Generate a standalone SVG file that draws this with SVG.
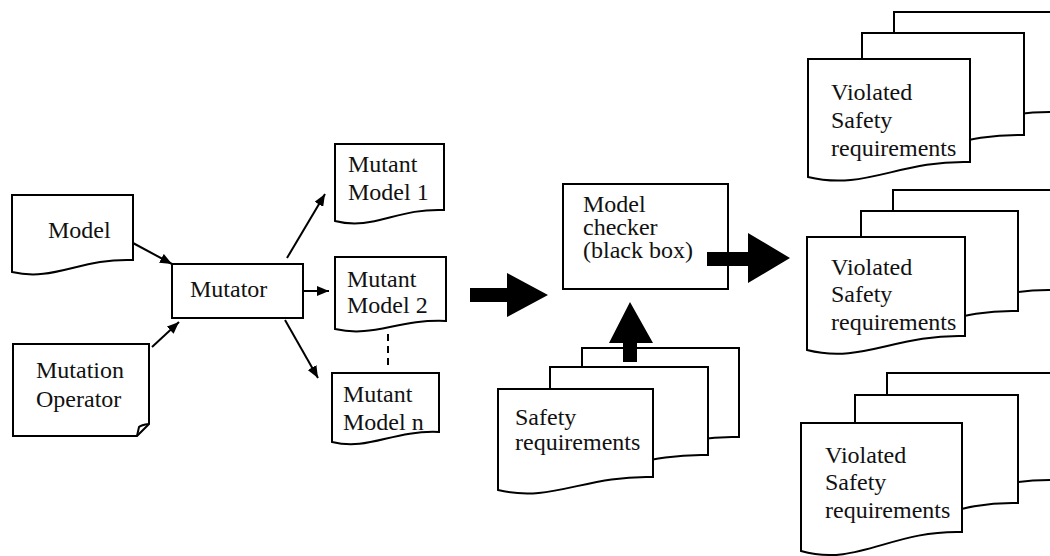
<svg xmlns="http://www.w3.org/2000/svg" width="1050" height="556" viewBox="0 0 1050 556">
  <style>
    .shape { fill: #fff; stroke: #000; stroke-width: 2; }
    .line { fill: none; stroke: #000; stroke-width: 2; }
    .block { fill: #000; stroke: none; }
    text { font-family: 'Liberation Serif', 'Times New Roman', serif; font-size: 24px; fill: #111; }
  </style>
  <defs>
    <marker id="head" viewBox="0 0 12 10" refX="12" refY="5" markerWidth="12" markerHeight="10" markerUnits="userSpaceOnUse" orient="auto">
      <path d="M0,0 L12,5 L0,10 Z" fill="#000"/>
    </marker>
  </defs>

  <!-- input documents and mutator -->
  <g id="model">
    <path class="shape" d="M12,195 H133 V260 C80,258 54,282 12,272 Z"/>
    <text x="48" y="238">Model</text>
  </g>
  <g id="mutation-operator">
    <path class="shape" d="M13,344 H149 V424 L137,436 H13 Z"/>
    <path class="line" d="M149,424 Q141,425 139,427 L137,436"/>
    <text x="36" y="378">Mutation</text>
    <text x="36" y="407">Operator</text>
  </g>
  <g id="mutator">
    <rect class="shape" x="172" y="264" width="131" height="54"/>
    <text x="190" y="297">Mutator</text>
  </g>

  <!-- mutant models -->
  <g id="mutant-model-1">
    <path class="shape" d="M335,144 H444 V210 C396,208 373,231 335,221 Z"/>
    <text x="348" y="172">Mutant</text>
    <text x="348" y="200">Model 1</text>
  </g>
  <g id="mutant-model-2">
    <path class="shape" d="M335,257 H446 V321 C397,319 374,338 335,329 Z"/>
    <text x="347" y="287">Mutant</text>
    <text x="347" y="313">Model 2</text>
  </g>
  <g id="mutant-model-n">
    <path class="shape" d="M332,373 H439 V432 C392,430 369,451 332,442 Z"/>
    <text x="343" y="402">Mutant</text>
    <text x="343" y="430">Model n</text>
  </g>

  <!-- model checker -->
  <g id="model-checker">
    <rect class="shape" x="563" y="184" width="165" height="105"/>
    <text x="583" y="212">Model</text>
    <text x="583" y="235">checker</text>
    <text x="583" y="258">(black box)</text>
  </g>

  <!-- safety requirements stack -->
  <g id="safety-requirements">
    <path class="shape" d="M582,348 H739 V437 C670,435 637,463 582,450 Z"/>
    <path class="shape" d="M550,367 H708 V455 C638,453 605,481 550,468 Z"/>
    <path class="shape" d="M498,389 H653 V477 C585,475 552,503 498,490 Z"/>
    <text x="515" y="425">Safety</text>
    <text x="515" y="450">requirements</text>
  </g>

  <!-- violated safety requirement stacks -->
  <g id="violated-1">
    <path class="shape" d="M894,12 H1056 V112 C985,110 951,141 894,127 Z"/>
    <path class="shape" d="M862,33 H1024 V135 C953,133 919,164 862,150 Z"/>
    <path class="shape" d="M808,59 H970 V162 C899,160 865,191 808,177 Z"/>
    <text x="831" y="100">Violated</text>
    <text x="831" y="128">Safety</text>
    <text x="831" y="156">requirements</text>
  </g>
  <g id="violated-2">
    <path class="shape" d="M893,190 H1055 V290 C984,288 950,319 893,305 Z"/>
    <path class="shape" d="M861,211 H1018 V311 C949,309 916,340 861,326 Z"/>
    <path class="shape" d="M807,237 H965 V336 C895,334 862,364 807,350 Z"/>
    <text x="831" y="275">Violated</text>
    <text x="831" y="302">Safety</text>
    <text x="831" y="330">requirements</text>
  </g>
  <g id="violated-3">
    <path class="shape" d="M887,373 H1056 V480 C978,478 944,513 887,497 Z"/>
    <path class="shape" d="M855,395 H1018 V503 C946,501 912,536 855,520 Z"/>
    <path class="shape" d="M801,423 H962 V532 C891,530 857,567 801,551 Z"/>
    <text x="825" y="463">Violated</text>
    <text x="825" y="490">Safety</text>
    <text x="825" y="518">requirements</text>
  </g>

  <!-- connectors -->
  <g id="connectors">
    <line class="line" x1="133" y1="243" x2="172" y2="264" marker-end="url(#head)"/>
    <line class="line" x1="152" y1="347" x2="179" y2="322" marker-end="url(#head)"/>
    <line class="line" x1="287" y1="258" x2="325" y2="194" marker-end="url(#head)"/>
    <line class="line" x1="303" y1="291" x2="329" y2="291" marker-end="url(#head)"/>
    <line class="line" x1="285" y1="320" x2="318" y2="378" marker-end="url(#head)"/>
    <line class="line" x1="388" y1="334" x2="388" y2="368" stroke-dasharray="7 5"/>
    <!-- block arrows -->
    <path class="block" d="M470,288 H507 V273 L548,295 L507,317 V302 H470 Z"/>
    <path class="block" d="M707,252 H748 V233 L790,258 L748,283 V266 H707 Z"/>
    <path class="block" d="M623,362 V343 H609 L630,302 L653,343 H637 V362 Z"/>
  </g>
</svg>
